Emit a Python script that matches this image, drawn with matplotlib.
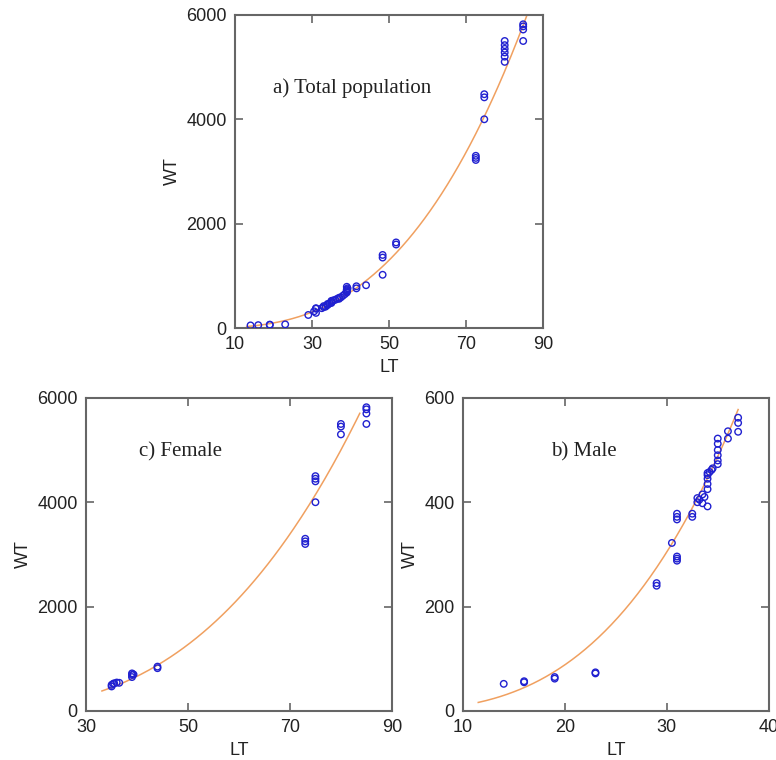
import numpy as np
import matplotlib.pyplot as plt

plt.rcParams['font.family'] = ['Liberation Sans', 'DejaVu Sans']

# a) total population
total_lt = [14, 16, 19, 19, 23, 29, 30.5, 31, 31, 31, 32.5, 33, 33, 33.5, 34, 34,
            34.5, 35, 35, 35, 35.5, 36, 36.5, 37, 37, 37.5, 38, 38.5, 39, 39, 39,
            39, 39.2, 39, 41.5, 41.5, 44, 48.3, 48.3, 48.3, 51.8, 51.8, 72.5, 72.5,
            72.5, 74.7, 74.7, 74.7, 80, 80, 80, 80, 80, 80, 84.8, 84.8, 84.8, 84.8]
total_wt = [50, 55, 60, 65, 70, 250, 320, 290, 370, 380, 380, 400, 420, 410, 440, 460,
            470, 480, 500, 520, 530, 540, 560, 560, 580, 590, 620, 650, 680, 700, 720,
            740, 760, 790, 760, 800, 820, 1020, 1350, 1400, 1600, 1640, 3220, 3260,
            3300, 4000, 4420, 4480, 5100, 5200, 5280, 5350, 5420, 5500, 5500, 5720,
            5780, 5820]

# c) female
female_lt = [35, 35, 35.3, 35.5, 36, 36.5, 39, 39, 39, 39.3, 44, 44, 73, 73, 73,
             75, 75, 75, 75, 80, 80, 80, 85, 85, 85, 85]
female_wt = [470, 500, 520, 530, 545, 540, 650, 690, 720, 700, 820, 850, 3200, 3250,
             3300, 4000, 4400, 4450, 4500, 5300, 5450, 5500, 5500, 5700, 5780, 5820]

# b) male
male_lt = [14, 16, 16, 19, 19, 23, 23, 29, 29, 30.5, 31, 31, 31, 31, 31, 31, 32.5,
           32.5, 33, 33, 33.2, 33.5, 33.5, 33.7, 34, 34, 34, 34, 34, 34, 34.2, 34.4,
           34.5, 35, 35, 35, 35, 35, 35, 36, 36, 37, 37, 37]
male_wt = [52, 55, 57, 62, 65, 72, 74, 240, 245, 322, 367, 372, 378, 288, 292, 296,
           372, 378, 400, 408, 405, 398, 415, 410, 392, 425, 435, 445, 452, 456, 458,
           462, 465, 473, 480, 490, 500, 512, 522, 522, 536, 535, 552, 562]

# fitted power curves W = a * L^b  (a, b, start LT, end LT)
fit_total = (0.02024, 2.83, 13, 86)
fit_female = (0.01449, 2.91, 33.1, 83.7)
fit_male = (0.00952, 3.05, 11.5, 37)

fig = plt.figure(figsize=(7.76, 7.6), dpi=100)
ax_a = fig.add_axes([0.303, 0.5684, 0.397, 0.412])
ax_c = fig.add_axes([0.111, 0.0645, 0.394, 0.412])
ax_b = fig.add_axes([0.5966, 0.0645, 0.394, 0.412])

panels = [
    (ax_a, total_lt, total_wt, fit_total, "a) Total population", (0.123, 0.767),
     (10, 90), [10, 30, 50, 70, 90], (0, 6000), [0, 2000, 4000, 6000]),
    (ax_c, female_lt, female_wt, fit_female, "c) Female", (0.173, 0.827),
     (30, 90), [30, 50, 70, 90], (0, 6000), [0, 2000, 4000, 6000]),
    (ax_b, male_lt, male_wt, fit_male, "b) Male", (0.288, 0.827),
     (10, 40), [10, 20, 30, 40], (0, 600), [0, 200, 400, 600]),
]

for ax, lt, wt, fit, title, tpos, xlim, xt, ylim, yt in panels:
    a, b, x0, x1 = fit
    xs = np.linspace(x0, x1, 200)
    ax.plot(xs, a * xs ** b, color="#f0a060", lw=1.1, zorder=2)
    ax.scatter(lt, wt, s=22, facecolors="none", edgecolors="#2020d0",
               linewidths=1.0, zorder=3)
    ax.set_xlim(*xlim)
    ax.set_ylim(*ylim)
    ax.set_xticks(xt)
    ax.set_yticks(yt)
    ax.tick_params(direction="in", top=True, right=True, length=6, width=1.2,
                   color="#666666", labelsize=13, labelcolor="#222222")
    ax.tick_params(axis="x", pad=6)
    ax.tick_params(axis="y", pad=6)
    for sp in ax.spines.values():
        sp.set_color("#666666")
        sp.set_linewidth(1.5)
    ax.set_xlabel("LT", fontsize=13, color="#222222", labelpad=4)
    ax.set_ylabel("WT", fontsize=13, color="#222222", labelpad=4)
    ax.text(tpos[0], tpos[1], title, transform=ax.transAxes, fontsize=15,
            family="Liberation Serif", va="center", ha="left", color="#222222")

fig.savefig("out.png", dpi=100)
